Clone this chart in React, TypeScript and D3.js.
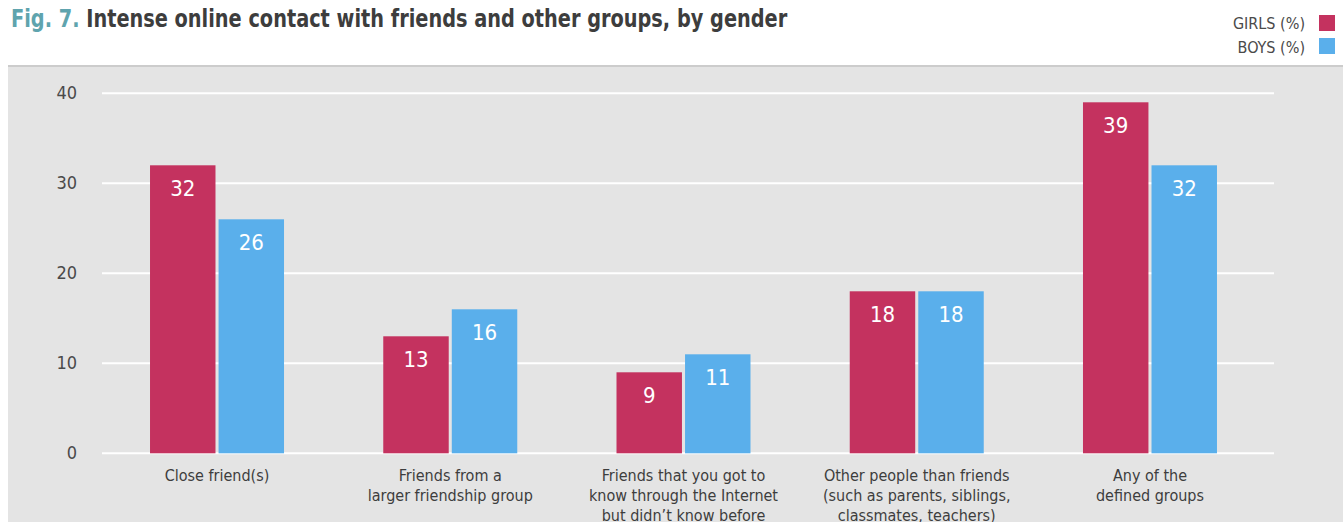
import React, { useEffect } from "react";
import * as d3 from "d3";

const categories = [
  ["Close friend(s)"],
  ["Friends from a", "larger friendship group"],
  ["Friends that you got to", "know through the Internet", "but didn\u2019t know before"],
  ["Other people than friends", "(such as parents, siblings,", "classmates, teachers)"],
  ["Any of the", "defined groups"],
];
const girls = [32, 13, 9, 18, 39];
const boys = [26, 16, 11, 18, 32];
const seriesNames = ["GIRLS (%)", "BOYS (%)"];
const yTicks = [0, 10, 20, 30, 40];

const W = 1343;
const H = 522;
const FONT = "'Liberation Sans Narrow', 'DejaVu Sans Condensed', 'Roboto', sans-serif";
const COLORS = ["#c4325f", "#5aafeb"];
const TEXT = "#3d3d3d";

export default function App() {
  useEffect(() => {
    document.body.style.margin = "0";
  }, []);

  const x0 = d3.scaleBand<number>().domain(d3.range(categories.length)).range([100.4, 1266.6]);
  const barW = 64;
  const gap = 6;
  const x1 = d3.scaleBand<number>().domain([0, 1]).range([0, barW * 2 + gap]).paddingInner(gap / (barW * 2 + gap));
  const y = d3.scaleLinear().domain([0, 40]).range([453.3, 93.3]);
  const series = [girls, boys];

  return (
    <svg width={W} height={H} style={{ display: "block", fontFamily: FONT }}>
      <rect x={0} y={0} width={W} height={H} fill="#ffffff" />
      {/* title */}
      <text transform="translate(11,27) scale(0.895,1)" x={0} y={0} fontSize={24} fontWeight="bold" fill={TEXT}>
        <tspan fill="#5fa4ae">Fig. 7.</tspan>
        <tspan> Intense online contact with friends and other groups, by gender</tspan>
      </text>
      {/* legend */}
      {seriesNames.map((n, i) => (
        <g key={n}>
          <text x={1305} y={29 + i * 24} fontSize={16} textAnchor="end" fill="#4a4a4a">
            {n}
          </text>
          <rect x={1319} y={15 + i * 23} width={16} height={16} fill={COLORS[i]} />
        </g>
      ))}
      {/* panel */}
      <rect x={8} y={66} width={W - 8} height={H - 66} fill="#e4e4e4" />
      <rect x={8} y={65} width={W - 8} height={2} fill="#cccccc" />
      {/* grid & y labels */}
      {yTicks.map((t) => (
        <g key={t}>
          <line x1={102} x2={1274} y1={y(t)} y2={y(t)} stroke="#ffffff" strokeWidth={2} />
          <text x={77} y={y(t) + 6} fontSize={18} textAnchor="end" fill="#4a4a4a">
            {t}
          </text>
        </g>
      ))}
      {/* bars */}
      {categories.map((c, ci) => {
        const gx = x0(ci)! + x0.bandwidth() / 2 - (barW * 2 + gap) / 2;
        return (
          <g key={ci}>
            {series.map((s, si) => {
              const bx = gx + x1(si)!;
              const by = y(s[ci]);
              return (
                <g key={si}>
                  <rect x={bx} y={by} width={x1.bandwidth()} height={y(0) - by} fill={COLORS[si]} />
                  <text x={bx + x1.bandwidth() / 2} y={by + 31} fontSize={22} textAnchor="middle" fill="#ffffff">
                    {s[ci]}
                  </text>
                </g>
              );
            })}
            <text fontSize={16} textAnchor="middle" fill={TEXT}>
              {c.map((line, li) => (
                <tspan key={li} x={x0(ci)! + x0.bandwidth() / 2} y={481 + li * 20}>
                  {line}
                </tspan>
              ))}
            </text>
          </g>
        );
      })}
    </svg>
  );
}
